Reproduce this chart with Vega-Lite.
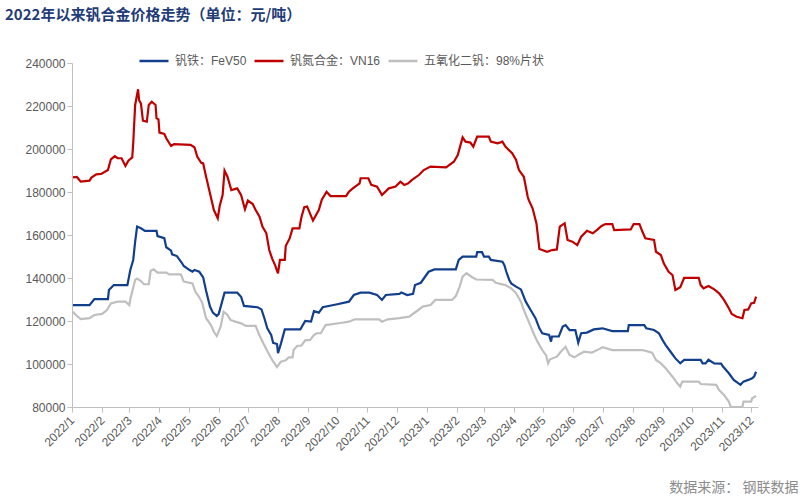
{
  "$schema": "https://vega.github.io/schema/vega-lite/v6.json",
  "width": 686,
  "height": 344,
  "autosize": {"type": "none"},
  "padding": {"left": 72, "top": 63, "right": 43, "bottom": 91},
  "background": "white",
  "config": {"view": {"stroke": null}},
  "title": {
    "text": "2022年以来钒合金价格走势（单位：元/吨）",
    "anchor": "start",
    "frame": "group",
    "dx": -67,
    "offset": 22,
    "font": "Noto Sans CJK SC",
    "fontSize": 15,
    "fontWeight": "bold",
    "color": "#1F3C77"
  },
  "data": {
    "values": [
      {"d":"2022-01-02","s":"VN16","p":186800},{"d":"2022-01-06","s":"VN16","p":187000},{"d":"2022-01-10","s":"VN16","p":184800},{"d":"2022-01-19","s":"VN16","p":185300},{"d":"2022-01-21","s":"VN16","p":186700},{"d":"2022-01-26","s":"VN16","p":188200},{"d":"2022-01-31","s":"VN16","p":188400},{"d":"2022-02-07","s":"VN16","p":190200},{"d":"2022-02-10","s":"VN16","p":195200},{"d":"2022-02-14","s":"VN16","p":196700},{"d":"2022-02-17","s":"VN16","p":195700},{"d":"2022-02-21","s":"VN16","p":195700},{"d":"2022-02-25","s":"VN16","p":192100},{"d":"2022-02-28","s":"VN16","p":194600},{"d":"2022-03-04","s":"VN16","p":196100},{"d":"2022-03-05","s":"VN16","p":202600},{"d":"2022-03-07","s":"VN16","p":220500},{"d":"2022-03-10","s":"VN16","p":227800},{"d":"2022-03-11","s":"VN16","p":222800},{"d":"2022-03-13","s":"VN16","p":221000},{"d":"2022-03-15","s":"VN16","p":213200},{"d":"2022-03-19","s":"VN16","p":212700},{"d":"2022-03-21","s":"VN16","p":220500},{"d":"2022-03-24","s":"VN16","p":222000},{"d":"2022-03-28","s":"VN16","p":220500},{"d":"2022-03-29","s":"VN16","p":214300},{"d":"2022-03-31","s":"VN16","p":213800},{"d":"2022-04-01","s":"VN16","p":207600},{"d":"2022-04-06","s":"VN16","p":207000},{"d":"2022-04-08","s":"VN16","p":205000},{"d":"2022-04-13","s":"VN16","p":201400},{"d":"2022-04-16","s":"VN16","p":202300},{"d":"2022-05-03","s":"VN16","p":201900},{"d":"2022-05-07","s":"VN16","p":200800},{"d":"2022-05-10","s":"VN16","p":196400},{"d":"2022-05-14","s":"VN16","p":193600},{"d":"2022-05-16","s":"VN16","p":193300},{"d":"2022-05-19","s":"VN16","p":187100},{"d":"2022-05-23","s":"VN16","p":179400},{"d":"2022-05-27","s":"VN16","p":171600},{"d":"2022-05-31","s":"VN16","p":167800},{"d":"2022-06-02","s":"VN16","p":173500},{"d":"2022-06-05","s":"VN16","p":178600},{"d":"2022-06-07","s":"VN16","p":189900},{"d":"2022-06-10","s":"VN16","p":187100},{"d":"2022-06-14","s":"VN16","p":180900},{"d":"2022-06-20","s":"VN16","p":181700},{"d":"2022-06-24","s":"VN16","p":178600},{"d":"2022-06-28","s":"VN16","p":172000},{"d":"2022-07-01","s":"VN16","p":176000},{"d":"2022-07-06","s":"VN16","p":174400},{"d":"2022-07-09","s":"VN16","p":171600},{"d":"2022-07-13","s":"VN16","p":168500},{"d":"2022-07-16","s":"VN16","p":163900},{"d":"2022-07-20","s":"VN16","p":160800},{"d":"2022-07-23","s":"VN16","p":153000},{"d":"2022-07-26","s":"VN16","p":149000},{"d":"2022-07-29","s":"VN16","p":146000},{"d":"2022-08-01","s":"VN16","p":142200},{"d":"2022-08-03","s":"VN16","p":148400},{"d":"2022-08-08","s":"VN16","p":148400},{"d":"2022-08-09","s":"VN16","p":155000},{"d":"2022-08-13","s":"VN16","p":158400},{"d":"2022-08-16","s":"VN16","p":163100},{"d":"2022-08-23","s":"VN16","p":163100},{"d":"2022-08-25","s":"VN16","p":168000},{"d":"2022-08-28","s":"VN16","p":172900},{"d":"2022-08-31","s":"VN16","p":173200},{"d":"2022-09-06","s":"VN16","p":166700},{"d":"2022-09-12","s":"VN16","p":171600},{"d":"2022-09-15","s":"VN16","p":176300},{"d":"2022-09-20","s":"VN16","p":180100},{"d":"2022-09-24","s":"VN16","p":178100},{"d":"2022-10-10","s":"VN16","p":178100},{"d":"2022-10-13","s":"VN16","p":180100},{"d":"2022-10-17","s":"VN16","p":181700},{"d":"2022-10-24","s":"VN16","p":184000},{"d":"2022-10-25","s":"VN16","p":186400},{"d":"2022-11-02","s":"VN16","p":186400},{"d":"2022-11-05","s":"VN16","p":183300},{"d":"2022-11-11","s":"VN16","p":182500},{"d":"2022-11-16","s":"VN16","p":178600},{"d":"2022-11-23","s":"VN16","p":181700},{"d":"2022-11-30","s":"VN16","p":182500},{"d":"2022-12-05","s":"VN16","p":184800},{"d":"2022-12-09","s":"VN16","p":183300},{"d":"2022-12-13","s":"VN16","p":184000},{"d":"2022-12-17","s":"VN16","p":185600},{"d":"2022-12-24","s":"VN16","p":187900},{"d":"2022-12-29","s":"VN16","p":190200},{"d":"2023-01-05","s":"VN16","p":191800},{"d":"2023-01-21","s":"VN16","p":191500},{"d":"2023-01-29","s":"VN16","p":194100},{"d":"2023-02-02","s":"VN16","p":197200},{"d":"2023-02-07","s":"VN16","p":205400},{"d":"2023-02-10","s":"VN16","p":203400},{"d":"2023-02-15","s":"VN16","p":203000},{"d":"2023-02-18","s":"VN16","p":201100},{"d":"2023-02-22","s":"VN16","p":205800},{"d":"2023-03-06","s":"VN16","p":205800},{"d":"2023-03-08","s":"VN16","p":203400},{"d":"2023-03-15","s":"VN16","p":202600},{"d":"2023-03-20","s":"VN16","p":203400},{"d":"2023-03-23","s":"VN16","p":201100},{"d":"2023-03-30","s":"VN16","p":198000},{"d":"2023-04-03","s":"VN16","p":194900},{"d":"2023-04-06","s":"VN16","p":190200},{"d":"2023-04-11","s":"VN16","p":187100},{"d":"2023-04-15","s":"VN16","p":177800},{"d":"2023-04-16","s":"VN16","p":176300},{"d":"2023-04-20","s":"VN16","p":172400},{"d":"2023-04-24","s":"VN16","p":165400},{"d":"2023-04-27","s":"VN16","p":153500},{"d":"2023-05-05","s":"VN16","p":152200},{"d":"2023-05-10","s":"VN16","p":153000},{"d":"2023-05-15","s":"VN16","p":153300},{"d":"2023-05-18","s":"VN16","p":163900},{"d":"2023-05-23","s":"VN16","p":165400},{"d":"2023-05-26","s":"VN16","p":157700},{"d":"2023-05-31","s":"VN16","p":156900},{"d":"2023-06-05","s":"VN16","p":155300},{"d":"2023-06-09","s":"VN16","p":159200},{"d":"2023-06-15","s":"VN16","p":162000},{"d":"2023-06-21","s":"VN16","p":160800},{"d":"2023-06-26","s":"VN16","p":162600},{"d":"2023-06-30","s":"VN16","p":164200},{"d":"2023-07-04","s":"VN16","p":165100},{"d":"2023-07-11","s":"VN16","p":165100},{"d":"2023-07-13","s":"VN16","p":162300},{"d":"2023-07-30","s":"VN16","p":162600},{"d":"2023-08-02","s":"VN16","p":165100},{"d":"2023-08-08","s":"VN16","p":165100},{"d":"2023-08-11","s":"VN16","p":161600},{"d":"2023-08-14","s":"VN16","p":158500},{"d":"2023-08-23","s":"VN16","p":157700},{"d":"2023-08-25","s":"VN16","p":152200},{"d":"2023-08-30","s":"VN16","p":150700},{"d":"2023-09-02","s":"VN16","p":146800},{"d":"2023-09-07","s":"VN16","p":142900},{"d":"2023-09-11","s":"VN16","p":141400},{"d":"2023-09-14","s":"VN16","p":134400},{"d":"2023-09-19","s":"VN16","p":135700},{"d":"2023-09-23","s":"VN16","p":140100},{"d":"2023-10-08","s":"VN16","p":140100},{"d":"2023-10-10","s":"VN16","p":136700},{"d":"2023-10-13","s":"VN16","p":135200},{"d":"2023-10-18","s":"VN16","p":136300},{"d":"2023-10-24","s":"VN16","p":134700},{"d":"2023-10-29","s":"VN16","p":132900},{"d":"2023-11-03","s":"VN16","p":129800},{"d":"2023-11-08","s":"VN16","p":125900},{"d":"2023-11-11","s":"VN16","p":123300},{"d":"2023-11-16","s":"VN16","p":122000},{"d":"2023-11-22","s":"VN16","p":121300},{"d":"2023-11-24","s":"VN16","p":125100},{"d":"2023-11-28","s":"VN16","p":125400},{"d":"2023-12-01","s":"VN16","p":128200},{"d":"2023-12-04","s":"VN16","p":128500},{"d":"2023-12-06","s":"VN16","p":131300},

      {"d":"2022-01-02","s":"FeV50","p":127400},{"d":"2022-01-19","s":"FeV50","p":127400},{"d":"2022-01-24","s":"FeV50","p":130200},{"d":"2022-02-07","s":"FeV50","p":130200},{"d":"2022-02-08","s":"FeV50","p":134400},{"d":"2022-02-13","s":"FeV50","p":136700},{"d":"2022-02-27","s":"FeV50","p":136700},{"d":"2022-03-02","s":"FeV50","p":143700},{"d":"2022-03-05","s":"FeV50","p":148400},{"d":"2022-03-07","s":"FeV50","p":156900},{"d":"2022-03-09","s":"FeV50","p":163900},{"d":"2022-03-13","s":"FeV50","p":163100},{"d":"2022-03-17","s":"FeV50","p":161900},{"d":"2022-03-29","s":"FeV50","p":161900},{"d":"2022-03-30","s":"FeV50","p":159500},{"d":"2022-04-06","s":"FeV50","p":158500},{"d":"2022-04-08","s":"FeV50","p":154300},{"d":"2022-04-13","s":"FeV50","p":152700},{"d":"2022-04-14","s":"FeV50","p":151000},{"d":"2022-04-19","s":"FeV50","p":150200},{"d":"2022-04-24","s":"FeV50","p":147100},{"d":"2022-04-26","s":"FeV50","p":145600},{"d":"2022-05-02","s":"FeV50","p":143700},{"d":"2022-05-05","s":"FeV50","p":142900},{"d":"2022-05-07","s":"FeV50","p":143700},{"d":"2022-05-12","s":"FeV50","p":142900},{"d":"2022-05-16","s":"FeV50","p":140300},{"d":"2022-05-19","s":"FeV50","p":134100},{"d":"2022-05-23","s":"FeV50","p":126700},{"d":"2022-05-26","s":"FeV50","p":123900},{"d":"2022-05-30","s":"FeV50","p":122300},{"d":"2022-06-01","s":"FeV50","p":123300},{"d":"2022-06-04","s":"FeV50","p":128200},{"d":"2022-06-07","s":"FeV50","p":133200},{"d":"2022-06-20","s":"FeV50","p":133200},{"d":"2022-06-24","s":"FeV50","p":131300},{"d":"2022-06-27","s":"FeV50","p":127000},{"d":"2022-07-11","s":"FeV50","p":126400},{"d":"2022-07-15","s":"FeV50","p":125400},{"d":"2022-07-18","s":"FeV50","p":121300},{"d":"2022-07-21","s":"FeV50","p":116600},{"d":"2022-07-25","s":"FeV50","p":113500},{"d":"2022-07-27","s":"FeV50","p":109800},{"d":"2022-07-31","s":"FeV50","p":109300},{"d":"2022-08-01","s":"FeV50","p":105000},{"d":"2022-08-04","s":"FeV50","p":109500},{"d":"2022-08-08","s":"FeV50","p":116100},{"d":"2022-08-24","s":"FeV50","p":116100},{"d":"2022-08-29","s":"FeV50","p":120000},{"d":"2022-09-04","s":"FeV50","p":119700},{"d":"2022-09-07","s":"FeV50","p":124600},{"d":"2022-09-12","s":"FeV50","p":123900},{"d":"2022-09-16","s":"FeV50","p":126400},{"d":"2022-10-01","s":"FeV50","p":127800},{"d":"2022-10-13","s":"FeV50","p":129000},{"d":"2022-10-18","s":"FeV50","p":132100},{"d":"2022-10-25","s":"FeV50","p":133200},{"d":"2022-11-03","s":"FeV50","p":133200},{"d":"2022-11-11","s":"FeV50","p":132100},{"d":"2022-11-16","s":"FeV50","p":129800},{"d":"2022-11-20","s":"FeV50","p":132100},{"d":"2022-12-04","s":"FeV50","p":132600},{"d":"2022-12-06","s":"FeV50","p":133300},{"d":"2022-12-12","s":"FeV50","p":132100},{"d":"2022-12-18","s":"FeV50","p":132600},{"d":"2022-12-20","s":"FeV50","p":136700},{"d":"2022-12-26","s":"FeV50","p":137800},{"d":"2023-01-03","s":"FeV50","p":142900},{"d":"2023-01-09","s":"FeV50","p":144000},{"d":"2023-01-31","s":"FeV50","p":144000},{"d":"2023-02-03","s":"FeV50","p":148400},{"d":"2023-02-07","s":"FeV50","p":149900},{"d":"2023-02-21","s":"FeV50","p":149900},{"d":"2023-02-22","s":"FeV50","p":152000},{"d":"2023-02-27","s":"FeV50","p":152000},{"d":"2023-03-01","s":"FeV50","p":149900},{"d":"2023-03-06","s":"FeV50","p":149900},{"d":"2023-03-08","s":"FeV50","p":148400},{"d":"2023-03-20","s":"FeV50","p":147600},{"d":"2023-03-22","s":"FeV50","p":146000},{"d":"2023-03-24","s":"FeV50","p":142900},{"d":"2023-03-27","s":"FeV50","p":139100},{"d":"2023-03-29","s":"FeV50","p":137500},{"d":"2023-04-03","s":"FeV50","p":136000},{"d":"2023-04-08","s":"FeV50","p":134700},{"d":"2023-04-13","s":"FeV50","p":129000},{"d":"2023-04-18","s":"FeV50","p":125100},{"d":"2023-04-23","s":"FeV50","p":121300},{"d":"2023-04-27","s":"FeV50","p":116600},{"d":"2023-04-30","s":"FeV50","p":114300},{"d":"2023-05-07","s":"FeV50","p":113500},{"d":"2023-05-09","s":"FeV50","p":110400},{"d":"2023-05-10","s":"FeV50","p":112800},{"d":"2023-05-17","s":"FeV50","p":112800},{"d":"2023-05-21","s":"FeV50","p":117400},{"d":"2023-05-24","s":"FeV50","p":118100},{"d":"2023-05-28","s":"FeV50","p":115800},{"d":"2023-06-03","s":"FeV50","p":115800},{"d":"2023-06-06","s":"FeV50","p":109900},{"d":"2023-06-09","s":"FeV50","p":114300},{"d":"2023-06-15","s":"FeV50","p":114600},{"d":"2023-06-22","s":"FeV50","p":116100},{"d":"2023-07-01","s":"FeV50","p":116600},{"d":"2023-07-11","s":"FeV50","p":115300},{"d":"2023-07-27","s":"FeV50","p":115300},{"d":"2023-07-28","s":"FeV50","p":118100},{"d":"2023-08-13","s":"FeV50","p":118100},{"d":"2023-08-15","s":"FeV50","p":116600},{"d":"2023-08-23","s":"FeV50","p":115800},{"d":"2023-08-28","s":"FeV50","p":114300},{"d":"2023-09-01","s":"FeV50","p":111000},{"d":"2023-09-04","s":"FeV50","p":108800},{"d":"2023-09-09","s":"FeV50","p":105700},{"d":"2023-09-14","s":"FeV50","p":102600},{"d":"2023-09-19","s":"FeV50","p":100300},{"d":"2023-09-23","s":"FeV50","p":101900},{"d":"2023-10-10","s":"FeV50","p":101900},{"d":"2023-10-12","s":"FeV50","p":100300},{"d":"2023-10-15","s":"FeV50","p":100300},{"d":"2023-10-18","s":"FeV50","p":102000},{"d":"2023-10-24","s":"FeV50","p":100300},{"d":"2023-10-31","s":"FeV50","p":100200},{"d":"2023-11-02","s":"FeV50","p":98800},{"d":"2023-11-08","s":"FeV50","p":95700},{"d":"2023-11-13","s":"FeV50","p":92600},{"d":"2023-11-20","s":"FeV50","p":90300},{"d":"2023-11-23","s":"FeV50","p":91800},{"d":"2023-11-28","s":"FeV50","p":92600},{"d":"2023-12-02","s":"FeV50","p":93400},{"d":"2023-12-04","s":"FeV50","p":94100},{"d":"2023-12-06","s":"FeV50","p":96400},

      {"d":"2022-01-02","s":"V2O5","p":124300},{"d":"2022-01-05","s":"V2O5","p":122800},{"d":"2022-01-10","s":"V2O5","p":120900},{"d":"2022-01-19","s":"V2O5","p":121300},{"d":"2022-01-24","s":"V2O5","p":122800},{"d":"2022-02-01","s":"V2O5","p":123300},{"d":"2022-02-06","s":"V2O5","p":125100},{"d":"2022-02-10","s":"V2O5","p":128200},{"d":"2022-02-17","s":"V2O5","p":129000},{"d":"2022-02-25","s":"V2O5","p":129000},{"d":"2022-03-01","s":"V2O5","p":127400},{"d":"2022-03-02","s":"V2O5","p":130100},{"d":"2022-03-07","s":"V2O5","p":139100},{"d":"2022-03-09","s":"V2O5","p":139700},{"d":"2022-03-13","s":"V2O5","p":138600},{"d":"2022-03-16","s":"V2O5","p":137100},{"d":"2022-03-21","s":"V2O5","p":137100},{"d":"2022-03-23","s":"V2O5","p":143400},{"d":"2022-03-26","s":"V2O5","p":144000},{"d":"2022-03-30","s":"V2O5","p":142500},{"d":"2022-04-08","s":"V2O5","p":142500},{"d":"2022-04-11","s":"V2O5","p":141700},{"d":"2022-04-23","s":"V2O5","p":141700},{"d":"2022-04-26","s":"V2O5","p":138300},{"d":"2022-05-05","s":"V2O5","p":137500},{"d":"2022-05-08","s":"V2O5","p":133600},{"d":"2022-05-12","s":"V2O5","p":131000},{"d":"2022-05-15","s":"V2O5","p":128500},{"d":"2022-05-19","s":"V2O5","p":121300},{"d":"2022-05-24","s":"V2O5","p":118100},{"d":"2022-05-27","s":"V2O5","p":115000},{"d":"2022-05-30","s":"V2O5","p":113000},{"d":"2022-06-03","s":"V2O5","p":117400},{"d":"2022-06-06","s":"V2O5","p":124300},{"d":"2022-06-10","s":"V2O5","p":122800},{"d":"2022-06-13","s":"V2O5","p":120500},{"d":"2022-06-18","s":"V2O5","p":119700},{"d":"2022-06-24","s":"V2O5","p":118900},{"d":"2022-06-29","s":"V2O5","p":117700},{"d":"2022-07-09","s":"V2O5","p":117700},{"d":"2022-07-12","s":"V2O5","p":114300},{"d":"2022-07-16","s":"V2O5","p":110500},{"d":"2022-07-21","s":"V2O5","p":106000},{"d":"2022-07-26","s":"V2O5","p":101900},{"d":"2022-07-31","s":"V2O5","p":98600},{"d":"2022-08-04","s":"V2O5","p":101100},{"d":"2022-08-09","s":"V2O5","p":101700},{"d":"2022-08-12","s":"V2O5","p":103100},{"d":"2022-08-16","s":"V2O5","p":103100},{"d":"2022-08-17","s":"V2O5","p":106500},{"d":"2022-08-21","s":"V2O5","p":108500},{"d":"2022-08-25","s":"V2O5","p":108500},{"d":"2022-08-29","s":"V2O5","p":111000},{"d":"2022-09-03","s":"V2O5","p":111200},{"d":"2022-09-07","s":"V2O5","p":113500},{"d":"2022-09-10","s":"V2O5","p":114300},{"d":"2022-09-14","s":"V2O5","p":114300},{"d":"2022-09-19","s":"V2O5","p":118100},{"d":"2022-10-06","s":"V2O5","p":119200},{"d":"2022-10-13","s":"V2O5","p":119700},{"d":"2022-10-19","s":"V2O5","p":120800},{"d":"2022-11-13","s":"V2O5","p":120800},{"d":"2022-11-16","s":"V2O5","p":119700},{"d":"2022-11-22","s":"V2O5","p":120800},{"d":"2022-12-04","s":"V2O5","p":121300},{"d":"2022-12-14","s":"V2O5","p":122000},{"d":"2022-12-21","s":"V2O5","p":124300},{"d":"2022-12-28","s":"V2O5","p":126700},{"d":"2023-01-05","s":"V2O5","p":127400},{"d":"2023-01-10","s":"V2O5","p":129800},{"d":"2023-01-27","s":"V2O5","p":129800},{"d":"2023-01-31","s":"V2O5","p":131600},{"d":"2023-02-04","s":"V2O5","p":136000},{"d":"2023-02-07","s":"V2O5","p":140600},{"d":"2023-02-11","s":"V2O5","p":142200},{"d":"2023-02-16","s":"V2O5","p":140600},{"d":"2023-02-21","s":"V2O5","p":139300},{"d":"2023-03-10","s":"V2O5","p":139100},{"d":"2023-03-13","s":"V2O5","p":137800},{"d":"2023-03-23","s":"V2O5","p":136700},{"d":"2023-03-29","s":"V2O5","p":135200},{"d":"2023-04-03","s":"V2O5","p":132900},{"d":"2023-04-08","s":"V2O5","p":129000},{"d":"2023-04-11","s":"V2O5","p":125100},{"d":"2023-04-16","s":"V2O5","p":119700},{"d":"2023-04-21","s":"V2O5","p":114300},{"d":"2023-04-25","s":"V2O5","p":110400},{"d":"2023-04-30","s":"V2O5","p":106500},{"d":"2023-05-04","s":"V2O5","p":104000},{"d":"2023-05-06","s":"V2O5","p":100300},{"d":"2023-05-08","s":"V2O5","p":102200},{"d":"2023-05-15","s":"V2O5","p":103400},{"d":"2023-05-19","s":"V2O5","p":105700},{"d":"2023-05-24","s":"V2O5","p":108000},{"d":"2023-05-28","s":"V2O5","p":104200},{"d":"2023-06-02","s":"V2O5","p":103100},{"d":"2023-06-07","s":"V2O5","p":104500},{"d":"2023-06-12","s":"V2O5","p":105700},{"d":"2023-06-20","s":"V2O5","p":105300},{"d":"2023-06-27","s":"V2O5","p":106800},{"d":"2023-07-01","s":"V2O5","p":107800},{"d":"2023-07-11","s":"V2O5","p":106500},{"d":"2023-08-11","s":"V2O5","p":106500},{"d":"2023-08-21","s":"V2O5","p":105300},{"d":"2023-08-25","s":"V2O5","p":101900},{"d":"2023-08-30","s":"V2O5","p":100300},{"d":"2023-09-04","s":"V2O5","p":98000},{"d":"2023-09-11","s":"V2O5","p":94100},{"d":"2023-09-16","s":"V2O5","p":91000},{"d":"2023-09-19","s":"V2O5","p":89500},{"d":"2023-09-21","s":"V2O5","p":91800},{"d":"2023-10-08","s":"V2O5","p":91800},{"d":"2023-10-10","s":"V2O5","p":90700},{"d":"2023-10-26","s":"V2O5","p":90300},{"d":"2023-10-29","s":"V2O5","p":87900},{"d":"2023-11-03","s":"V2O5","p":85600},{"d":"2023-11-08","s":"V2O5","p":82500},{"d":"2023-11-10","s":"V2O5","p":80000},{"d":"2023-11-22","s":"V2O5","p":80000},{"d":"2023-11-23","s":"V2O5","p":82500},{"d":"2023-12-01","s":"V2O5","p":82500},{"d":"2023-12-02","s":"V2O5","p":84100},{"d":"2023-12-06","s":"V2O5","p":85100}
    ]
  },
  "mark": {"type": "line", "strokeWidth": 2.2, "clip": true},
  "encoding": {
    "x": {
      "field": "d",
      "type": "temporal",
      "scale": {
        "type": "utc",
        "domain": [
          {"year": 2022, "month": 1, "date": 1, "utc": true},
          {"year": 2023, "month": 12, "date": 8, "utc": true}
        ]
      },
      "axis": {
        "title": "数据来源： 钢联数据",
        "titleX": 726,
        "titleY": 80,
        "titleAlign": "right",
        "titleBaseline": "middle",
        "titleFont": "Noto Sans CJK SC",
        "titleFontSize": 14,
        "titleFontWeight": "normal",
        "titleColor": "#8C8C8C",
        "tickCount": {"interval": "month", "step": 1},
        "format": "%Y/%-m",
        "labelAngle": -45,
        "labelAlign": "right",
        "labelBaseline": "middle",
        "labelPadding": 6,
        "labelFont": "Liberation Sans",
        "labelFontSize": 12,
        "labelColor": "#595959",
        "labelOverlap": false,
        "labelFlush": false,
        "domainColor": "#BFBFBF",
        "tickColor": "#BFBFBF",
        "tickSize": 5,
        "grid": false
      }
    },
    "y": {
      "field": "p",
      "type": "quantitative",
      "scale": {"domain": [80000, 240000], "nice": false, "zero": false},
      "axis": {
        "title": null,
        "values": [80000, 100000, 120000, 140000, 160000, 180000, 200000, 220000, 240000],
        "format": "d",
        "labelFont": "Liberation Sans",
        "labelFontSize": 12,
        "labelColor": "#595959",
        "labelPadding": 2,
        "domainColor": "#BFBFBF",
        "tickColor": "#BFBFBF",
        "tickSize": 5,
        "grid": false
      }
    },
    "color": {
      "field": "s",
      "type": "nominal",
      "scale": {
        "domain": ["FeV50", "VN16", "V2O5"],
        "range": ["#123F8C", "#C00000", "#BFBFBF"]
      },
      "legend": {
        "title": null,
        "orient": "none",
        "direction": "horizontal",
        "legendX": 66,
        "legendY": -18,
        "symbolType": "stroke",
        "symbolSize": 841,
        "symbolStrokeWidth": 2.5,
        "labelExpr": "{'FeV50':'钒铁：FeV50','VN16':'钒氮合金：VN16','V2O5':'五氧化二钒：98%片状'}[datum.label]",
        "labelFont": "Liberation Sans, Noto Sans CJK SC",
        "labelFontSize": 12,
        "labelColor": "#595959",
        "labelOffset": 5,
        "columnPadding": 2,
        "labelLimit": 300
      }
    }
  }
}
